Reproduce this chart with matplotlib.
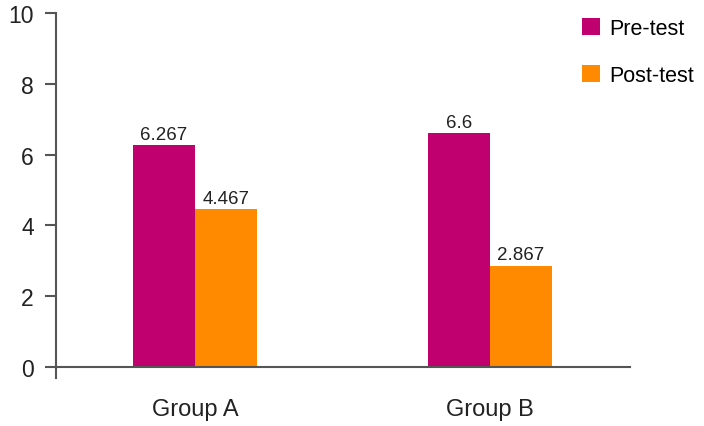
import matplotlib
matplotlib.use("Agg")
import matplotlib.pyplot as plt
import numpy as np

plt.rcParams['font.family'] = ['Liberation Sans', 'DejaVu Sans']

categories = ["Group A", "Group B"]
series_names = ["Pre-test", "Post-test"]
pre_test = [6.267, 6.6]
post_test = [4.467, 2.867]
pre_labels = ["6.267", "6.6"]
post_labels = ["4.467", "2.867"]
colors = ["#C0006E", "#FF8A00"]

fig = plt.figure(figsize=(7.04, 4.27), dpi=100)
ax = fig.add_axes([56/704, 1 - 368/427, (630 - 56)/704, (368 - 14)/427])

x = np.arange(len(categories))
w = 0.21
b1 = ax.bar(x - w/2, pre_test, w, color=colors[0], label=series_names[0])
b2 = ax.bar(x + w/2, post_test, w, color=colors[1], label=series_names[1])

for bars, labs in ((b1, pre_labels), (b2, post_labels)):
    for rect, lab in zip(bars, labs):
        ax.text(rect.get_x() + rect.get_width()/2, rect.get_height() + 0.06, lab,
                ha='center', va='bottom', fontsize=13.5, color='#222222')

ax.set_xlim(-0.471, 1.475)
ax.set_ylim(0, 10)
ax.set_yticks([0, 2, 4, 6, 8, 10])
ax.set_xticks(x)
ax.set_xticklabels(categories)
ax.tick_params(axis='y', labelsize=16.5, length=8, width=1.5, color='#555555', pad=8, labelcolor='#222222')
ax.tick_params(axis='x', labelsize=17, length=0, pad=22, labelcolor='#222222')

for s in ['top', 'right']:
    ax.spines[s].set_visible(False)
for s in ['left', 'bottom']:
    ax.spines[s].set_color('#555555')
    ax.spines[s].set_linewidth(1.5)
# small tick below origin
ax.plot([-0.471, -0.471], [0, -0.3], color='#555555', lw=1.5, clip_on=False)

leg = fig.legend(handles=[b1, b2], labels=series_names, loc='upper left',
                 bbox_to_anchor=(582/704, 1 - 19/427), frameon=False, fontsize=15.5,
                 borderpad=0, borderaxespad=0,
                 handlelength=0.85, handleheight=0.85, handletextpad=0.4, labelspacing=1.2)

fig.savefig("out.png", dpi=100)
